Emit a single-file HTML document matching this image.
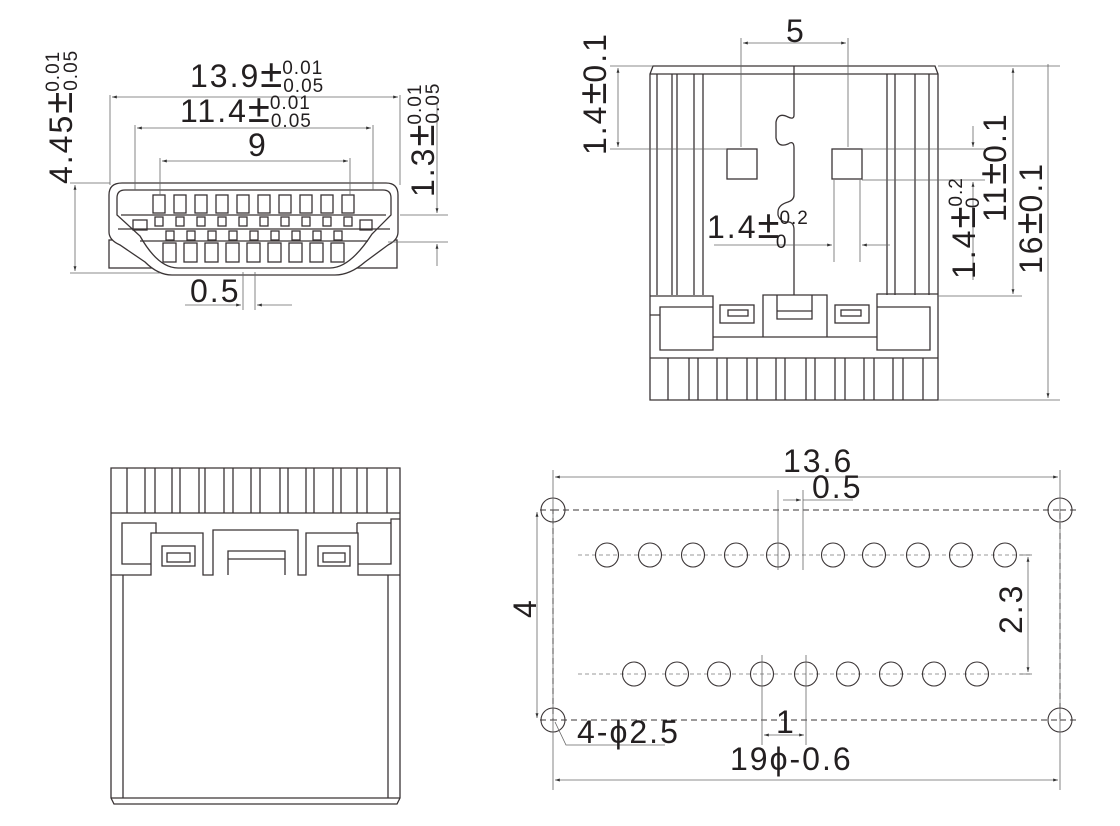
<!DOCTYPE html>
<html><head><meta charset="utf-8"><style>
html,body{margin:0;padding:0;background:#fff;}
svg{display:block;}
text{font-family:"Liberation Sans",Arial,sans-serif;fill:#231f20;letter-spacing:2px;}
.s{font-size:19px;letter-spacing:1px;}
.p{font-size:40px;letter-spacing:0;}
</style></head><body>
<svg width="1120" height="826" viewBox="0 0 1120 826" xmlns="http://www.w3.org/2000/svg">
<defs>
<marker id="a" viewBox="0 0 10 6" refX="10" refY="3" markerWidth="6" markerHeight="4" orient="auto-start-reverse"><path d="M0,0L10,3L0,6z" fill="#333"/></marker>
</defs>
<g fill="none" stroke="#3a3435" stroke-width="1.3">
<rect x="109" y="240" width="288" height="28"/>
<path d="M122,183 H386 Q398,183 398,195 V232 Q398,240 388,245 L365,262 Q350,275 335,275 H172 Q158,275 145,262 L120,245 Q109,240 109,232 V195 Q109,183 122,183 Z" fill="#fff"/>
<path d="M125,190 H383 Q391,190 391,198 V215 L372,234 Q350,268 330,268 H178 Q158,268 140,236 L117,215 V198 Q117,190 125,190 Z"/>
<path d="M121,215 H386 M118,229 H390 M140,241 H368"/>
<g>
<rect x="153" y="195" width="12" height="18"/><rect x="174" y="195" width="12" height="18"/><rect x="195" y="195" width="12" height="18"/><rect x="216" y="195" width="12" height="18"/><rect x="237" y="195" width="12" height="18"/><rect x="258" y="195" width="12" height="18"/><rect x="279" y="195" width="12" height="18"/><rect x="300" y="195" width="12" height="18"/><rect x="321" y="195" width="12" height="18"/><rect x="342" y="195" width="12" height="18"/>
<rect x="155" y="217" width="8" height="9"/><rect x="176" y="217" width="8" height="9"/><rect x="197" y="217" width="8" height="9"/><rect x="218" y="217" width="8" height="9"/><rect x="239" y="217" width="8" height="9"/><rect x="260" y="217" width="8" height="9"/><rect x="281" y="217" width="8" height="9"/><rect x="302" y="217" width="8" height="9"/><rect x="323" y="217" width="8" height="9"/><rect x="344" y="217" width="8" height="9"/>
<rect x="166" y="231" width="8" height="9"/><rect x="187" y="231" width="8" height="9"/><rect x="208" y="231" width="8" height="9"/><rect x="229" y="231" width="8" height="9"/><rect x="250" y="231" width="8" height="9"/><rect x="271" y="231" width="8" height="9"/><rect x="292" y="231" width="8" height="9"/><rect x="313" y="231" width="8" height="9"/><rect x="334" y="231" width="8" height="9"/>
<rect x="163" y="243" width="13" height="19"/><rect x="184" y="243" width="13" height="19"/><rect x="205" y="243" width="13" height="19"/><rect x="226" y="243" width="13" height="19"/><rect x="247" y="243" width="13" height="19"/><rect x="268" y="243" width="13" height="19"/><rect x="289" y="243" width="13" height="19"/><rect x="310" y="243" width="13" height="19"/><rect x="331" y="243" width="13" height="19"/>
<rect x="133" y="220" width="14" height="10"/><rect x="360" y="220" width="12" height="10"/>
</g>
</g>
<g stroke="#666" stroke-width="0.8" fill="none">
<path d="M110,95 V185 M400,95 V185 M135,125 V190 M373,125 V190 M160,158 V195 M350,158 V195"/>
<path d="M112,97 H398" marker-start="url(#a)" marker-end="url(#a)"/>
<path d="M137,128 H371" marker-start="url(#a)" marker-end="url(#a)"/>
<path d="M162,161 H348" marker-start="url(#a)" marker-end="url(#a)"/>
<path d="M70,183 H110 M70,273 H160"/>
<path d="M75,185 V271" marker-start="url(#a)" marker-end="url(#a)"/>
<path d="M400,215 H448 M388,242 H448"/>
<path d="M437,102 V213" marker-end="url(#a)"/><path d="M437,266 V244" marker-end="url(#a)"/>
<path d="M243,272 V310 M255,272 V310"/>
<path d="M185,305 H241" marker-end="url(#a)"/><path d="M292,305 H257" marker-end="url(#a)"/>
</g>
<g font-size="32">
<text x="190" y="87">13.9<tspan class="p">±</tspan><tspan class="s" dy="-13">0.01</tspan><tspan class="s" dx="-40" dy="18">0.05</tspan></text>
<text x="180" y="122">11.4<tspan class="p">±</tspan><tspan class="s" dy="-13">0.01</tspan><tspan class="s" dx="-40" dy="18">0.05</tspan></text>
<text x="248" y="156">9</text>
<text x="190" y="302">0.5</text>
<g transform="translate(72,184) rotate(-90)"><text x="0" y="0">4.45<tspan class="p">±</tspan><tspan class="s" dy="-13">0.01</tspan><tspan class="s" dx="-40" dy="18">0.05</tspan></text></g>
<g transform="translate(434,197) rotate(-90)"><text x="0" y="0">1.3<tspan class="p">±</tspan><tspan class="s" dy="-13">0.01</tspan><tspan class="s" dx="-40" dy="18">0.05</tspan></text></g>
</g>

<g fill="none" stroke="#3a3435" stroke-width="1.3">
<path d="M653,66 H935 L938,74 V400 H650 V74 Z"/>
<path d="M650,74 H938"/>
<path d="M657,74 V295 M672,74 V295 M677,74 V295 M694,74 V295 M703,74 V295 M887,74 V295 M895,74 V295 M915,74 V295 M929,74 V295"/>
<rect x="727" y="149" width="30" height="30"/><rect x="832" y="149" width="30" height="30"/>
<path d="M794,66 V115 Q794,120 788,117 Q778,112 776,122 V138 Q778,148 788,144 Q794,140 794,148 V195 Q794,200 788,202 Q778,205 778,212 V215 Q780,222 788,222 Q794,222 794,230 V295"/>
<path d="M650,296 H713 V350 H660 V307 H713 M650,315 H660"/>
<rect x="720" y="305" width="34" height="18"/><rect x="728" y="310" width="20" height="6"/>
<path d="M763,337 V295 H827 V337 M777,295 V319 H812 V295 M777,311 H812"/>
<path d="M713,337 H877"/>
<rect x="835" y="305" width="34" height="18"/><rect x="841" y="310" width="20" height="6"/>
<path d="M938,294 H877 V350 H930 V307 H877"/>
<path d="M650,358 H938"/>
<path d="M668,358V400M689,358V400M698,358V400M717,358V400M727,358V400M747,358V400M757,358V400M776,358V400M785,358V400M806,358V400M815,358V400M835,358V400M845,358V400M864,358V400M874,358V400M893,358V400M903,358V400M923,358V400"/>
</g>
<g stroke="#666" stroke-width="0.8" fill="none">
<path d="M741,38 V147 M848,38 V147"/>
<path d="M743,43 H846" marker-start="url(#a)" marker-end="url(#a)"/>
<path d="M610,66 H653 M610,149 H727"/>
<path d="M618,68 V147" marker-start="url(#a)" marker-end="url(#a)"/>
<path d="M938,66 H1060 M938,296 H1022 M938,400 H1060"/>
<path d="M1013,68 V294" marker-start="url(#a)" marker-end="url(#a)"/>
<path d="M1048,64 V398" marker-end="url(#a)"/>
<path d="M862,149 H985 M862,180 H985"/>
<path d="M973,126 V147" marker-end="url(#a)"/><path d="M973,280 V182" marker-end="url(#a)"/>
<path d="M834,180 V262 M860,180 V262"/>
<path d="M714,245 H832" marker-end="url(#a)"/><path d="M890,245 H862" marker-end="url(#a)"/>
</g>
<g font-size="32">
<text x="786" y="42">5</text>
<text x="707" y="238">1.4<tspan class="p">±</tspan><tspan class="s" font-size="21" dy="-14">0.2</tspan><tspan class="s" font-size="21" dx="-33" dy="24">0</tspan></text>
<g transform="translate(606,155) rotate(-90)"><text x="0" y="0">1.4<tspan class="p">±</tspan>0.1</text></g>
<g transform="translate(1006,222) rotate(-90)"><text x="0" y="0">11<tspan class="p">±</tspan>0.1</text></g>
<g transform="translate(1042,274) rotate(-90)"><text x="0" y="0">16<tspan class="p">±</tspan>0.1</text></g>
<g transform="translate(975,279) rotate(-90)"><text x="0" y="0">1.4<tspan class="p">±</tspan><tspan class="s" font-size="20" dy="-13">0.2</tspan><tspan class="s" font-size="20" dx="-31" dy="17">0</tspan></text></g>
</g>

<g fill="none" stroke="#3a3435" stroke-width="1.3">
<path d="M111,468 H400 V798 L397,804 H114 L111,798 Z"/>
<path d="M111,513 H400"/>
<path d="M127,468V513M145,468V513M155,468V513M172,468V513M180,468V513M199,468V513M205,468V513M224,468V513M233,468V513M251,468V513M260,468V513M280,468V513M288,468V513M306,468V513M314,468V513M333,468V513M341,468V513M357,468V513M367,468V513M387,468V513"/>
<path d="M123,575 V798 M388,575 V798 M111,798 H400"/>
<path d="M111,575 H151 V533 H203 V575 H213 V530 H298 V575 H306 V533 H358 V575 H400"/>
<path d="M151,564 H122 V523 H156 V533 M358,564 H391 V519 H400 M357,523 V533 M357,523 H391"/>
<rect x="162" y="546" width="33" height="20"/><rect x="167" y="553" width="23" height="9"/>
<rect x="318" y="546" width="32" height="20"/><rect x="323" y="553" width="22" height="9"/>
<path d="M228,575 V551 H285 V575 M228,559 H285"/>
</g>

<g fill="none" stroke="#3a3435" stroke-width="1.1">
<path d="M553,510 H1060 V720 H553 Z M540,510 H553 M1060,510 H1080 M1060,720 H1080 M540,720 H553" stroke-dasharray="6,4"/>
<g stroke="#999" stroke-width="0.9" stroke-dasharray="4,3"><path d="M578,555 H1032 M578,674 H1032"/></g>
<circle cx="553" cy="510" r="12"/><circle cx="1060" cy="510" r="12"/><circle cx="553" cy="720" r="12"/><circle cx="1060" cy="720" r="12"/>
<g>
<ellipse cx="607" cy="555" rx="11.5" ry="12"/><ellipse cx="650" cy="555" rx="11.5" ry="12"/><ellipse cx="693" cy="555" rx="11.5" ry="12"/><ellipse cx="736" cy="555" rx="11.5" ry="12"/><ellipse cx="778" cy="555" rx="11.5" ry="12"/><ellipse cx="833" cy="555" rx="11.5" ry="12"/><ellipse cx="874" cy="555" rx="11.5" ry="12"/><ellipse cx="918" cy="555" rx="11.5" ry="12"/><ellipse cx="961" cy="555" rx="11.5" ry="12"/><ellipse cx="1005" cy="555" rx="11.5" ry="12"/>
<ellipse cx="634" cy="674" rx="11.5" ry="12"/><ellipse cx="677" cy="674" rx="11.5" ry="12"/><ellipse cx="719" cy="674" rx="11.5" ry="12"/><ellipse cx="762" cy="674" rx="11.5" ry="12"/><ellipse cx="806" cy="674" rx="11.5" ry="12"/><ellipse cx="848" cy="674" rx="11.5" ry="12"/><ellipse cx="891" cy="674" rx="11.5" ry="12"/><ellipse cx="934" cy="674" rx="11.5" ry="12"/><ellipse cx="977" cy="674" rx="11.5" ry="12"/>
</g>
</g>
<g stroke="#666" stroke-width="0.8" fill="none">
<path d="M553,470 V790 M1060,470 V790"/>
<path d="M555,477 H1058" marker-start="url(#a)" marker-end="url(#a)"/>
<path d="M555,780 H1058" marker-start="url(#a)" marker-end="url(#a)"/>
<path d="M778,490 V570 M803,490 V570"/>
<path d="M783,500 H801" marker-end="url(#a)"/><path d="M803,500 H853"/>
<path d="M1020,555 H1032 M1020,674 H1032"/>
<path d="M1028,557 V672" marker-start="url(#a)" marker-end="url(#a)"/>
<path d="M537,512 V718" marker-start="url(#a)" marker-end="url(#a)"/>
<path d="M762,655 V745 M806,655 V745"/>
<path d="M764,735 H804" marker-start="url(#a)" marker-end="url(#a)"/>
<path d="M555,722 L566,745 H665"/>
</g>
<g font-size="32">
<text x="783" y="472">13.6</text>
<text x="812" y="498">0.5</text>
<g transform="translate(1022,634) rotate(-90)"><text x="0" y="0">2.3</text></g>
<g transform="translate(536,618) rotate(-90)"><text x="0" y="0">4</text></g>
<text x="577" y="743">4-ϕ2.5</text>
<text x="776" y="733">1</text>
<text x="730" y="770">19ϕ-0.6</text>
</g>
</svg>
</body></html>
